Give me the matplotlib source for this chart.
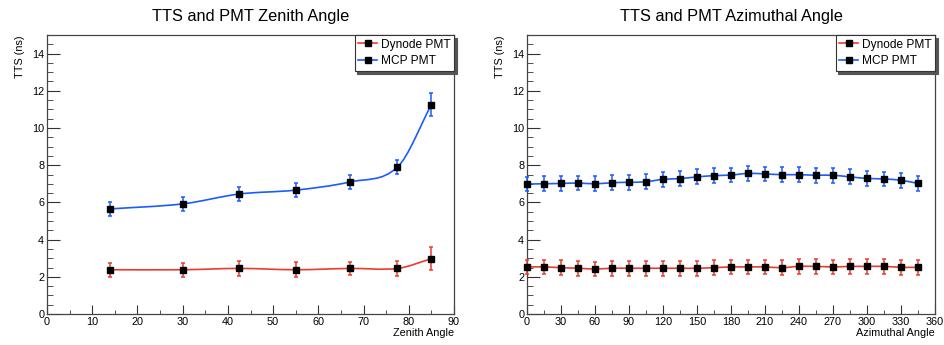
import numpy as np
import matplotlib
matplotlib.use("Agg")
import matplotlib.pyplot as plt
from matplotlib.path import Path
from matplotlib.patches import PathPatch
from matplotlib.lines import Line2D
from matplotlib.ticker import MultipleLocator

plt.rcParams['font.family'] = ['Liberation Sans', 'DejaVu Sans']

# zenith scan
zen_angle = [14, 30, 42.5, 55, 67, 77.5, 85]
zen_dynode = [2.38, 2.38, 2.45, 2.38, 2.45, 2.45, 2.97]
zen_dynode_err = [0.38, 0.38, 0.40, 0.40, 0.36, 0.40, 0.62]
zen_mcp = [5.65, 5.92, 6.45, 6.66, 7.10, 7.90, 11.25]
zen_mcp_err = [0.38, 0.38, 0.38, 0.38, 0.38, 0.38, 0.62]

# azimuthal scan
azi_angle = [0, 15, 30, 45, 60, 75, 90, 105, 120, 135, 150, 165,
             180, 195, 210, 225, 240, 255, 270, 285, 300, 315, 330, 345]
azi_dynode = [2.53, 2.53, 2.49, 2.46, 2.42, 2.46, 2.46, 2.46, 2.46, 2.46, 2.46, 2.49,
              2.53, 2.53, 2.53, 2.49, 2.56, 2.56, 2.53, 2.56, 2.56, 2.56, 2.51, 2.51]
azi_dynode_err = [0.40] * 24
azi_mcp = [6.99, 7.00, 7.02, 7.04, 7.00, 7.06, 7.08, 7.11, 7.24, 7.28, 7.37, 7.44,
           7.47, 7.56, 7.53, 7.49, 7.49, 7.46, 7.46, 7.37, 7.29, 7.26, 7.19, 7.02]
azi_mcp_err = [0.40] * 24

RED = '#f0392b'
BLUE = '#1a5cff'


def smooth_path(x, y):
    # cubic hermite through the points, drawn as bezier segments
    x = np.asarray(x, float)
    y = np.asarray(y, float)
    n = len(x)
    m = np.zeros(n)
    m[0] = (y[1] - y[0]) / (x[1] - x[0])
    m[-1] = (y[-1] - y[-2]) / (x[-1] - x[-2])
    for i in range(1, n - 1):
        m[i] = (y[i + 1] - y[i - 1]) / (x[i + 1] - x[i - 1])
    verts = [(x[0], y[0])]
    codes = [Path.MOVETO]
    for i in range(n - 1):
        h = x[i + 1] - x[i]
        verts += [(x[i] + h / 3, y[i] + m[i] * h / 3),
                  (x[i + 1] - h / 3, y[i + 1] - m[i + 1] * h / 3),
                  (x[i + 1], y[i + 1])]
        codes += [Path.CURVE4] * 3
    return Path(verts, codes)


def draw_series(ax, x, y, err, color):
    ax.add_patch(PathPatch(smooth_path(x, y), fill=False, ec=color, lw=1.2, zorder=2))
    ax.errorbar(x, y, yerr=err, fmt='none', ecolor=color, elinewidth=1.1,
                capsize=1.3, capthick=1.1, zorder=3, clip_on=False)
    ax.plot(x, y, 's', color='k', markersize=5, zorder=4, clip_on=False)


def style_axes(ax, title, xlabel, xmax, xmajor, xminor):
    ax.set_xlim(0, xmax)
    ax.set_ylim(0, 15)
    ax.xaxis.set_major_locator(MultipleLocator(xmajor))
    ax.xaxis.set_minor_locator(MultipleLocator(xminor))
    ax.yaxis.set_major_locator(MultipleLocator(2))
    ax.yaxis.set_minor_locator(MultipleLocator(0.5))
    ax.tick_params(which='both', direction='in', top=False, right=False,
                   labelsize=7.8, color='#333333')
    ax.tick_params(axis='y', which='major', length=9, pad=2)
    ax.tick_params(axis='y', which='minor', length=4.5)
    ax.tick_params(axis='x', which='major', length=6.5, pad=2)
    ax.tick_params(axis='x', which='minor', length=3.2)
    for s in ax.spines.values():
        s.set_color('#444444')
        s.set_linewidth(0.9)
    ax.set_title(title, fontsize=11.8, pad=10)
    ax.set_xlabel(xlabel, fontsize=7.8, loc='right', labelpad=1)
    ax.set_ylabel('TTS (ns)', fontsize=7.8, loc='top', labelpad=5)
    handles = [Line2D([], [], color=RED, lw=1.2, marker='s', mfc='k', mec='k', ms=5),
               Line2D([], [], color=BLUE, lw=1.2, marker='s', mfc='k', mec='k', ms=5)]
    leg = ax.legend(handles, ['Dynode PMT', 'MCP PMT'], loc='upper right',
                    bbox_to_anchor=(1.0, 1.0), fontsize=8.6, handlelength=1.6,
                    handletextpad=0.3, borderpad=0.3, labelspacing=0.4,
                    fancybox=False, framealpha=1, edgecolor='#333333',
                    borderaxespad=0, shadow={'color': '#555555', 'alpha': 1})
    leg.get_frame().set_linewidth(0.8)


fig = plt.figure(figsize=(9.45, 3.45), dpi=100)
ax1 = fig.add_axes([47 / 945, 1 - 314 / 345, 407 / 945, 279 / 345])
ax2 = fig.add_axes([527 / 945, 1 - 314 / 345, 408 / 945, 279 / 345])

draw_series(ax1, zen_angle, zen_dynode, zen_dynode_err, RED)
draw_series(ax1, zen_angle, zen_mcp, zen_mcp_err, BLUE)
style_axes(ax1, 'TTS and PMT Zenith Angle', 'Zenith Angle', 90, 10, 5)

draw_series(ax2, azi_angle, azi_dynode, azi_dynode_err, RED)
draw_series(ax2, azi_angle, azi_mcp, azi_mcp_err, BLUE)
style_axes(ax2, 'TTS and PMT Azimuthal Angle', 'Azimuthal Angle', 360, 30, 15)

fig.savefig('out.png', dpi=100)
